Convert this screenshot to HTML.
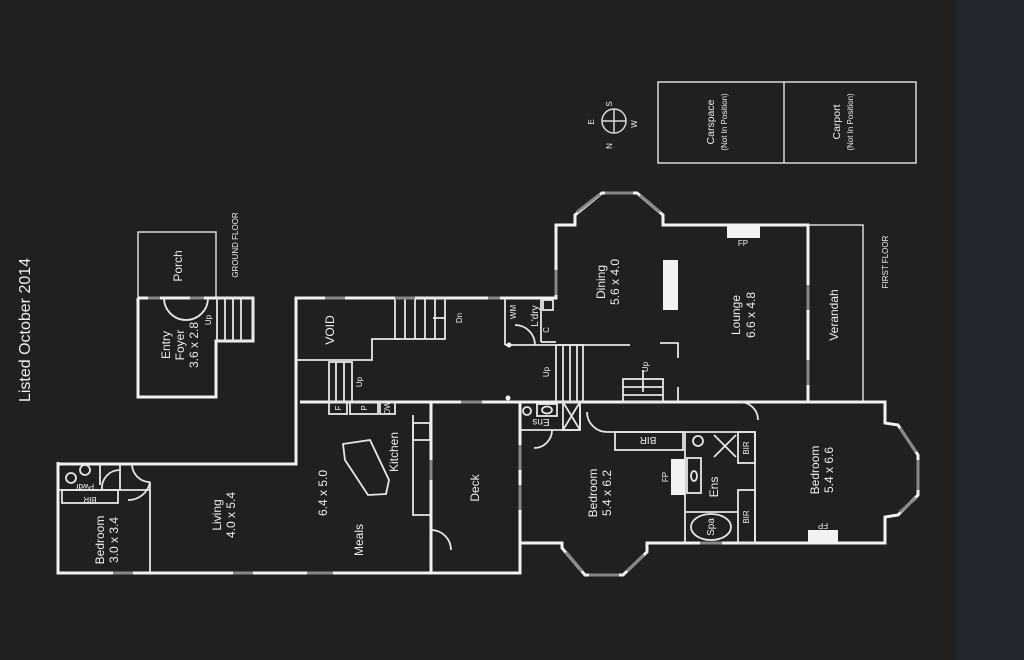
<!DOCTYPE html>
<html><head><meta charset="utf-8"><style>
html,body{margin:0;padding:0;background:#211f20;}
svg{display:block}
text{font-family:"Liberation Sans",sans-serif;fill:#eee}
</style></head><body>
<svg width="1024" height="660" viewBox="0 0 1024 660" xmlns="http://www.w3.org/2000/svg">
<rect width="1024" height="660" fill="#211f20"/>
<rect x="956" y="0" width="68" height="660" fill="#22272e"/>
<text transform="translate(30,330) rotate(-90)" text-anchor="middle" font-size="16">Listed October 2014</text>

<g fill="none" stroke="#d8d8d8" stroke-width="1.5">
<rect x="658" y="82" width="258" height="81"/>
<line x1="784" y1="82" x2="784" y2="163"/>
<circle cx="614" cy="121" r="12"/>
<line x1="602" y1="121" x2="626" y2="121"/>
<line x1="614" y1="109" x2="614" y2="133"/>
<rect x="138" y="232" width="78" height="66"/>
<rect x="808" y="225" width="55" height="177"/>
</g>
<g font-size="10.5" text-anchor="middle">
<text transform="translate(714,122) rotate(-90)">Carspace</text>
<text transform="translate(840,122) rotate(-90)">Carport</text>
</g>
<g font-size="8" text-anchor="middle">
<text transform="translate(727,122) rotate(-90)">(Not In Position)</text>
<text transform="translate(853,122) rotate(-90)">(Not In Position)</text>
<text transform="translate(594,122) rotate(-90)">E</text>
<text transform="translate(637,124) rotate(-90)">W</text>
<text transform="translate(612,104) rotate(-90)">S</text>
<text transform="translate(612,146) rotate(-90)">N</text>
</g>

<g fill="none" stroke="#f2f2f2" stroke-width="3" stroke-linejoin="miter">
<polyline points="138,298 138,397 216,397 216,341 253,341 253,298 138,298"/>
<polyline points="58,464 296,464 296,298 556,298 556,225 575,225 575,215 602,193 637,193 663,215 663,225 808,225 808,402"/>
<polyline points="58,462 58,573 520,573 520,402"/>
<polyline points="431,402 885,402 885,423 898,425 918,455 918,495 898,515 885,517 885,543 647,543 647,552 623,575 585,575 562,548 562,543 520,543"/>
<line x1="431" y1="402" x2="431" y2="573"/>
<line x1="300" y1="402" x2="431" y2="402"/>
</g>
<g fill="none" stroke="#e6e6e6" stroke-width="1.8">
<polyline points="296,360 372,360 372,339 400,339"/>
<polyline points="413,415 413,515 431,515"/>
<line x1="150" y1="482" x2="150" y2="573"/>
<line x1="58" y1="490" x2="150" y2="490"/>
<rect x="62" y="490" width="56" height="13"/>
<line x1="120" y1="464" x2="120" y2="490"/>
<line x1="100" y1="464" x2="100" y2="485"/>
<path d="M150 482 A22 22 0 0 1 128 500"/>
<path d="M132 464 A18 18 0 0 0 150 482"/>
<path d="M120 470 A18 18 0 0 0 102 490"/>
<circle cx="85" cy="470" r="5"/><circle cx="71" cy="478" r="5"/>
<rect x="329" y="402" width="18" height="12"/><rect x="350" y="402" width="28" height="12"/><rect x="380" y="402" width="15" height="12"/>
<rect x="413" y="423" width="17" height="17"/>
<polygon points="343,444 370,440 389,480 386,494 368,495 345,460"/>
<rect x="329" y="362" width="23" height="40"/>
<line x1="336" y1="362" x2="336" y2="402"/><line x1="344" y1="362" x2="344" y2="402"/>
<rect x="395" y="298" width="50" height="41"/>
<line x1="405" y1="298" x2="405" y2="339"/><line x1="415" y1="298" x2="415" y2="339"/><line x1="425" y1="298" x2="425" y2="339"/><line x1="435" y1="298" x2="435" y2="339"/>
<line x1="433" y1="318" x2="445" y2="318"/>
<line x1="505" y1="298" x2="505" y2="345"/><line x1="541" y1="298" x2="541" y2="342"/>
<path d="M515 325 A20 20 0 0 1 535 345"/>
<rect x="543" y="300" width="10" height="10"/><line x1="541" y1="342" x2="556" y2="342"/>
<line x1="505" y1="345" x2="630" y2="345"/>
<rect x="556" y="345" width="27" height="57"/>
<line x1="563" y1="345" x2="563" y2="402"/><line x1="570" y1="345" x2="570" y2="402"/><line x1="577" y1="345" x2="577" y2="402"/>
<polyline points="660,343 678,343 678,358"/><line x1="678" y1="387" x2="678" y2="402"/>
<rect x="623" y="379" width="40" height="23"/><line x1="623" y1="387" x2="663" y2="387"/><line x1="623" y1="395" x2="663" y2="395"/><line x1="643" y1="370" x2="643" y2="392"/>
<rect x="217" y="298" width="36" height="43"/>
<line x1="225" y1="298" x2="225" y2="341"/><line x1="233" y1="298" x2="233" y2="341"/><line x1="241" y1="298" x2="241" y2="341"/>
<path d="M164 298 A22 22 0 0 0 186 320"/><path d="M186 320 A22 22 0 0 0 208 298"/>
<line x1="520" y1="430" x2="580" y2="430"/><line x1="580" y1="402" x2="580" y2="430"/>
<rect x="563" y="402" width="17" height="28"/><line x1="563" y1="402" x2="580" y2="430"/><line x1="580" y1="402" x2="563" y2="430"/>
<rect x="537" y="404" width="20" height="12"/><ellipse cx="547" cy="410" rx="5" ry="3.5"/>
<circle cx="527" cy="411" r="4"/>
<path d="M552 430 A18 18 0 0 1 534 448"/>
<line x1="607" y1="432" x2="755" y2="432"/>
<path d="M607 432 A20 20 0 0 1 587 412"/>
<rect x="615" y="432" width="68" height="18"/>
<line x1="685" y1="432" x2="685" y2="543"/>
<line x1="685" y1="512" x2="738" y2="512"/>
<line x1="755" y1="432" x2="755" y2="543"/>
<rect x="738" y="432" width="17" height="31"/><rect x="738" y="490" width="17" height="53"/>
<rect x="687" y="458" width="14" height="35"/><ellipse cx="694" cy="476" rx="3" ry="5"/>
<ellipse cx="711" cy="527" rx="20" ry="13"/>
<circle cx="698" cy="441" r="5"/>
<line x1="714" y1="435" x2="736" y2="457"/><line x1="736" y1="435" x2="714" y2="457"/>
<path d="M740 402 A18 18 0 0 1 758 420"/>
<path d="M431 530 A20 20 0 0 1 451 550"/>
</g>
<g fill="#f2f2f2">
<rect x="663" y="260" width="15" height="50"/>
<rect x="727" y="225" width="33" height="13"/>
<rect x="808" y="530" width="30" height="13"/>
<rect x="671" y="459" width="14" height="36"/>
<circle cx="509" cy="345" r="2.5"/><circle cx="508" cy="398" r="2.5"/>
</g>
<g stroke="#888" stroke-width="3">
<line x1="148" y1="298" x2="160" y2="298"/><line x1="190" y1="298" x2="204" y2="298"/>
<line x1="325" y1="298" x2="345" y2="298"/><line x1="395" y1="298" x2="415" y2="298"/><line x1="488" y1="298" x2="500" y2="298"/>
<line x1="113" y1="573" x2="133" y2="573"/><line x1="233" y1="573" x2="253" y2="573"/><line x1="307" y1="573" x2="333" y2="573"/>
<line x1="461" y1="402" x2="482" y2="402"/><line x1="431" y1="460" x2="431" y2="480"/>
<line x1="520" y1="445" x2="520" y2="470"/><line x1="520" y1="485" x2="520" y2="510"/>
<line x1="556" y1="270" x2="556" y2="295"/>
<line x1="808" y1="285" x2="808" y2="310"/><line x1="808" y1="360" x2="808" y2="385"/>
<line x1="700" y1="543" x2="722" y2="543"/>
<line x1="577" y1="212" x2="600" y2="194"/><line x1="605" y1="193" x2="633" y2="193"/><line x1="640" y1="195" x2="660" y2="212"/>
<line x1="566" y1="552" x2="582" y2="571"/><line x1="589" y1="575" x2="619" y2="575"/><line x1="627" y1="571" x2="644" y2="555"/>
<line x1="900" y1="428" x2="916" y2="452"/><line x1="918" y1="460" x2="918" y2="490"/><line x1="916" y1="498" x2="900" y2="512"/>
</g>

<g font-size="12" text-anchor="middle">
<text transform="translate(182,266) rotate(-90)">Porch</text>
<text transform="translate(170,345) rotate(-90)">Entry</text>
<text transform="translate(184,345) rotate(-90)">Foyer</text>
<text transform="translate(198,345) rotate(-90)">3.6 x 2.8</text>
<text transform="translate(334,330) rotate(-90)">VOID</text>
<text transform="translate(605,282) rotate(-90)">Dining</text>
<text transform="translate(619,282) rotate(-90)">5.6 x 4.0</text>
<text transform="translate(740,315) rotate(-90)">Lounge</text>
<text transform="translate(755,315) rotate(-90)">6.6 x 4.8</text>
<text transform="translate(838,315) rotate(-90)">Verandah</text>
<text transform="translate(398,452) rotate(-90)">Kitchen</text>
<text transform="translate(327,493) rotate(-90)">6.4 x 5.0</text>
<text transform="translate(363,540) rotate(-90)">Meals</text>
<text transform="translate(479,488) rotate(-90)">Deck</text>
<text transform="translate(221,515) rotate(-90)">Living</text>
<text transform="translate(235,515) rotate(-90)">4.0 x 5.4</text>
<text transform="translate(104,540) rotate(-90)">Bedroom</text>
<text transform="translate(118,540) rotate(-90)">3.0 x 3.4</text>
<text transform="translate(597,493) rotate(-90)">Bedroom</text>
<text transform="translate(611,493) rotate(-90)">5.4 x 6.2</text>
<text transform="translate(718,487) rotate(-90)">Ens</text>
<text transform="translate(819,470) rotate(-90)">Bedroom</text>
<text transform="translate(833,470) rotate(-90)">5.4 x 6.6</text>
</g>
<g font-size="8" text-anchor="middle">
<text transform="translate(238,245) rotate(-90)">GROUND FLOOR</text>
<text transform="translate(888,262) rotate(-90)">FIRST FLOOR</text>
<text transform="translate(211,320) rotate(-90)">Up</text>
<text transform="translate(462,318) rotate(-90)">Dn</text>
<text transform="translate(362,382) rotate(-90)">Up</text>
<text transform="translate(549,372) rotate(-90)">Up</text>
<text transform="translate(648,367) rotate(-90)">Up</text>
<text transform="translate(516,312) rotate(-90)">WM</text>
<text transform="translate(549,330) rotate(-90)">C</text>
<text transform="translate(390,408) rotate(-90)">DW</text>
<text transform="translate(341,408) rotate(-90)">F</text>
<text transform="translate(367,408) rotate(-90)">P</text>
<text transform="translate(749,448) rotate(-90)">BIR</text>
<text transform="translate(749,517) rotate(-90)">BIR</text>
<text transform="translate(668,477) rotate(-90)">FP</text>
<text transform="translate(743,246)">FP</text>
<text transform="translate(823,523) rotate(180)">FP</text>
<text transform="translate(90,497) rotate(180)">BIR</text>
<text transform="translate(85,484) rotate(180)">Pwdr</text>
</g>
<g font-size="10" text-anchor="middle">
<text transform="translate(538,316) rotate(-90)">L'dry</text>
<text transform="translate(648,437) rotate(180)">BIR</text>
<text transform="translate(541,419) rotate(180)">Ens</text>
<text transform="translate(714,527) rotate(-90)">Spa</text>
</g>
</svg>
</body></html>
